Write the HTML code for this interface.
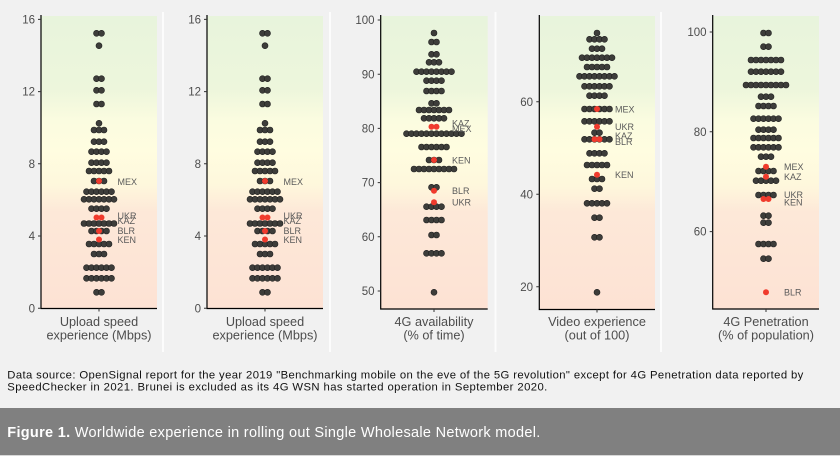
<!DOCTYPE html>
<html><head><meta charset="utf-8"><style>
html,body{margin:0;padding:0;background:#f1f1f1;}
svg{display:block;font-family:"Liberation Sans",Arial,sans-serif;}
.tk{font-size:11.5px;fill:#4d4d4d;text-anchor:end;}
.ti{font-size:12.7px;fill:#4d4d4d;text-anchor:middle;}
.lb{font-size:9px;fill:#5a5a5a;}
.ax{stroke:#000;stroke-width:1.2;fill:none;}
.tm{stroke:#333;stroke-width:1;}
.bd{fill:#3d3d3a;stroke:#1f1f1f;stroke-width:.6;}
.rd{fill:#f03b2d;}
</style></head><body>
<svg width="840" height="456" viewBox="0 0 840 456" xmlns="http://www.w3.org/2000/svg">
<defs>
<linearGradient id="bg" x1="0" y1="0" x2="0" y2="1">
<stop offset="0" stop-color="#e8f4dc"/>
<stop offset=".25" stop-color="#edf6dc"/>
<stop offset=".36" stop-color="#fbfce0"/>
<stop offset=".46" stop-color="#fffde0"/>
<stop offset=".58" stop-color="#fef7dc"/>
<stop offset=".67" stop-color="#fde8d8"/>
<stop offset="1" stop-color="#fde2d4"/>
</linearGradient>
<circle id="c" r="3"/>
<g id="d1"><use href="#c"/></g>
<g id="d2"><use href="#c" x="-2.5"/><use href="#c" x="2.5"/></g>
<g id="d3"><use href="#c" x="-5"/><use href="#c"/><use href="#c" x="5"/></g>
<g id="d4"><use href="#c" x="-7.5"/><use href="#c" x="-2.5"/><use href="#c" x="2.5"/><use href="#c" x="7.5"/></g>
<g id="d5"><use href="#c" x="-10"/><use href="#c" x="-5"/><use href="#c"/><use href="#c" x="5"/><use href="#c" x="10"/></g>
<g id="d6"><use href="#c" x="-12.5"/><use href="#c" x="-7.5"/><use href="#c" x="-2.5"/><use href="#c" x="2.5"/><use href="#c" x="7.5"/><use href="#c" x="12.5"/></g>
<g id="d7"><use href="#c" x="-15"/><use href="#c" x="-10"/><use href="#c" x="-5"/><use href="#c"/><use href="#c" x="5"/><use href="#c" x="10"/><use href="#c" x="15"/></g>
<g id="d8"><use href="#c" x="-17.5"/><use href="#c" x="-12.5"/><use href="#c" x="-7.5"/><use href="#c" x="-2.5"/><use href="#c" x="2.5"/><use href="#c" x="7.5"/><use href="#c" x="12.5"/><use href="#c" x="17.5"/></g>
<g id="d9"><use href="#c" x="-20"/><use href="#c" x="-15"/><use href="#c" x="-10"/><use href="#c" x="-5"/><use href="#c"/><use href="#c" x="5"/><use href="#c" x="10"/><use href="#c" x="15"/><use href="#c" x="20"/></g>
<g id="d12"><use href="#c" x="-27.5"/><use href="#c" x="-22.5"/><use href="#c" x="-17.5"/><use href="#c" x="-12.5"/><use href="#c" x="-7.5"/><use href="#c" x="-2.5"/><use href="#c" x="2.5"/><use href="#c" x="7.5"/><use href="#c" x="12.5"/><use href="#c" x="17.5"/><use href="#c" x="22.5"/><use href="#c" x="27.5"/></g>
</defs>

<rect x="0" y="0" width="840" height="456" fill="#f1f1f1"/>
<g fill="#fcfcfc">
<rect x="162" y="12" width="2" height="340"/>
<rect x="329" y="12" width="2" height="340"/>
<rect x="494.5" y="12" width="2" height="340"/>
<rect x="660" y="12" width="2" height="340"/>
</g>

<!-- PANEL 1 -->
<g>
<rect x="41" y="16" width="116" height="292.5" fill="url(#bg)"/>
<g class="bd">
<use href="#d2" x="99" y="33.3"/><use href="#d1" x="99" y="45.7"/><use href="#d2" x="99" y="78.7"/><use href="#d2" x="99" y="90.3"/><use href="#d2" x="99" y="104"/><use href="#d1" x="99" y="123.3"/><use href="#d3" x="99" y="130"/><use href="#d3" x="99" y="141.7"/><use href="#d4" x="99" y="151.7"/><use href="#d4" x="99" y="162.7"/><use href="#d5" x="99" y="171"/><use href="#d3" x="99" y="181"/><use href="#d6" x="99" y="191.7"/><use href="#d7" x="99" y="199.3"/><use href="#d4" x="99" y="208.7"/><use href="#d7" x="99" y="223.5"/><use href="#d4" x="99" y="231"/><use href="#d5" x="99" y="244"/><use href="#d3" x="99" y="254"/><use href="#d6" x="99" y="267.7"/><use href="#d6" x="99" y="278.3"/><use href="#d2" x="99" y="292.3"/>
</g>
<g class="rd"><use href="#d1" x="99" y="181"/><use href="#d2" x="99" y="217.5"/><use href="#d1" x="99" y="231"/><use href="#d1" x="99" y="239.5"/></g>
<g class="lb"><text x="117.5" y="185.2">MEX</text><text x="117.5" y="219.2">UKR</text><text x="117.5" y="224.2">KAZ</text><text x="117.5" y="233.9">BLR</text><text x="117.5" y="243.2">KEN</text></g>
<path class="ax" d="M41,15V308.5H157"/>
<path class="tm" d="M38,19.4H41M38,91.6H41M38,163.8H41M38,236H41M38,308.2H41M99,308.5V311.5"/>
<g class="tk"><text x="35" y="23.5">16</text><text x="35" y="95.7">12</text><text x="35" y="167.9">8</text><text x="35" y="240.1">4</text><text x="35" y="312.3">0</text></g>
<text class="ti" x="99" y="326">Upload speed</text>
<text class="ti" x="99" y="339.5">experience (Mbps)</text>
</g>

<!-- PANEL 2 -->
<g transform="translate(166,0)">
<rect x="41" y="16" width="116" height="292.5" fill="url(#bg)"/>
<g class="bd">
<use href="#d2" x="99" y="33.3"/><use href="#d1" x="99" y="45.7"/><use href="#d2" x="99" y="78.7"/><use href="#d2" x="99" y="90.3"/><use href="#d2" x="99" y="104"/><use href="#d1" x="99" y="123.3"/><use href="#d3" x="99" y="130"/><use href="#d3" x="99" y="141.7"/><use href="#d4" x="99" y="151.7"/><use href="#d4" x="99" y="162.7"/><use href="#d5" x="99" y="171"/><use href="#d3" x="99" y="181"/><use href="#d6" x="99" y="191.7"/><use href="#d7" x="99" y="199.3"/><use href="#d4" x="99" y="208.7"/><use href="#d7" x="99" y="223.5"/><use href="#d4" x="99" y="231"/><use href="#d5" x="99" y="244"/><use href="#d3" x="99" y="254"/><use href="#d6" x="99" y="267.7"/><use href="#d6" x="99" y="278.3"/><use href="#d2" x="99" y="292.3"/>
</g>
<g class="rd"><use href="#d1" x="99" y="181"/><use href="#d2" x="99" y="217.5"/><use href="#d1" x="99" y="231"/><use href="#d1" x="99" y="239.5"/></g>
<g class="lb"><text x="117.5" y="185.2">MEX</text><text x="117.5" y="219.2">UKR</text><text x="117.5" y="224.2">KAZ</text><text x="117.5" y="233.9">BLR</text><text x="117.5" y="243.2">KEN</text></g>
<path class="ax" d="M41,15V308.5H157"/>
<path class="tm" d="M38,19.4H41M38,91.6H41M38,163.8H41M38,236H41M38,308.2H41M99,308.5V311.5"/>
<g class="tk"><text x="35" y="23.5">16</text><text x="35" y="95.7">12</text><text x="35" y="167.9">8</text><text x="35" y="240.1">4</text><text x="35" y="312.3">0</text></g>
<text class="ti" x="99" y="326">Upload speed</text>
<text class="ti" x="99" y="339.5">experience (Mbps)</text>
</g>

<!-- PANEL 3 -->
<g>
<rect x="380.7" y="16" width="107" height="293" fill="url(#bg)"/>
<g class="bd">
<use href="#d1" x="434" y="33"/><use href="#d2" x="434" y="42"/><use href="#d2" x="434" y="54.3"/><use href="#d3" x="434" y="62.3"/><use href="#d8" x="434" y="71.7"/><use href="#d4" x="434" y="80.7"/><use href="#d4" x="434" y="91"/><use href="#d2" x="434" y="103.3"/><use href="#d7" x="434" y="110"/><use href="#d5" x="434" y="118.3"/><use href="#d12" x="434" y="133.7"/><use href="#d6" x="434" y="147"/><use href="#d3" x="434" y="160"/><use href="#d9" x="434" y="169"/><use href="#d2" x="434" y="187.3"/><use href="#d4" x="434" y="206.7"/><use href="#d4" x="434" y="220"/><use href="#d2" x="434" y="235"/><use href="#d4" x="434" y="253.3"/><use href="#d1" x="434" y="292.3"/>
</g>
<g class="rd"><use href="#d2" x="434" y="126.7"/><use href="#d1" x="434" y="160"/><use href="#d1" x="434" y="190.7"/><use href="#d1" x="434" y="202.3"/></g>
<g class="lb"><text x="452" y="126.5">KAZ</text><text x="452" y="131.9">MEX</text><text x="452" y="163.5">KEN</text><text x="452" y="193.9">BLR</text><text x="452" y="205.5">UKR</text></g>
<path class="ax" d="M380.7,15V309H487.7"/>
<path class="tm" d="M377.7,20H380.7M377.7,74.2H380.7M377.7,128.4H380.7M377.7,182.6H380.7M377.7,236.8H380.7M377.7,291H380.7M434,309V312"/>
<g class="tk"><text x="374.5" y="24.1">100</text><text x="374.5" y="78.3">90</text><text x="374.5" y="132.5">80</text><text x="374.5" y="186.7">70</text><text x="374.5" y="240.9">60</text><text x="374.5" y="295.1">50</text></g>
<text class="ti" x="434" y="326">4G availability</text>
<text class="ti" x="434" y="339.5">(% of time)</text>
</g>

<!-- PANEL 4 -->
<g>
<rect x="539.3" y="16" width="115.7" height="293.5" fill="url(#bg)"/>
<g class="bd">
<use href="#d1" x="597" y="33"/><use href="#d4" x="597" y="39.3"/><use href="#d3" x="597" y="48.7"/><use href="#d7" x="597" y="57.7"/><use href="#d5" x="597" y="67"/><use href="#d8" x="597" y="76.3"/><use href="#d6" x="597" y="86.3"/><use href="#d4" x="597" y="95.7"/><use href="#d6" x="597" y="109"/><use href="#d6" x="597" y="121.3"/><use href="#d2" x="597" y="132.7"/><use href="#d6" x="597" y="139.3"/><use href="#d4" x="597" y="153.3"/><use href="#d5" x="597" y="165"/><use href="#d3" x="597" y="179"/><use href="#d2" x="597" y="188.7"/><use href="#d5" x="597" y="203.3"/><use href="#d2" x="597" y="217.7"/><use href="#d2" x="597" y="237.3"/><use href="#d1" x="597" y="292.3"/>
</g>
<g class="rd"><use href="#d1" x="597" y="109"/><use href="#d1" x="597" y="126.7"/><use href="#d2" x="597" y="139.3"/><use href="#d1" x="597" y="174.7"/></g>
<g class="lb"><text x="615" y="112.5">MEX</text><text x="615" y="130.2">UKR</text><text x="615" y="139.2">KAZ</text><text x="615" y="144.9">BLR</text><text x="615" y="178.2">KEN</text></g>
<path class="ax" d="M539.3,15V309.5H655"/>
<path class="tm" d="M536.3,101.7H539.3M536.3,194.3H539.3M536.3,286.8H539.3M597,309.5V312.5"/>
<g class="tk"><text x="533" y="105.8">60</text><text x="533" y="198.4">40</text><text x="533" y="290.9">20</text></g>
<text class="ti" x="597" y="326">Video experience</text>
<text class="ti" x="597" y="339.5">(out of 100)</text>
</g>

<!-- PANEL 5 -->
<g>
<rect x="712.7" y="16" width="106.3" height="293" fill="url(#bg)"/>
<g class="bd">
<use href="#d2" x="766" y="33"/><use href="#d2" x="766" y="46.7"/><use href="#d7" x="766" y="60"/><use href="#d7" x="766" y="71.7"/><use href="#d9" x="766" y="85"/><use href="#d3" x="766" y="96.7"/><use href="#d4" x="766" y="106"/><use href="#d6" x="766" y="118.7"/><use href="#d4" x="766" y="129.7"/><use href="#d6" x="766" y="138"/><use href="#d6" x="766" y="147.3"/><use href="#d3" x="766" y="156.7"/><use href="#d4" x="766" y="171"/><use href="#d5" x="766" y="180.7"/><use href="#d4" x="766" y="195"/><use href="#d2" x="766" y="215.7"/><use href="#d2" x="766" y="222.7"/><use href="#d4" x="766" y="244"/><use href="#d2" x="766" y="258.7"/>
</g>
<g class="rd"><use href="#d1" x="766" y="166.7"/><use href="#d1" x="766" y="176.7"/><use href="#d2" x="766" y="199"/><use href="#d1" x="766" y="292.3"/></g>
<g class="lb"><text x="784" y="170.2">MEX</text><text x="784" y="179.9">KAZ</text><text x="784" y="198.2">UKR</text><text x="784" y="205.5">KEN</text><text x="784" y="295.5">BLR</text></g>
<path class="ax" d="M712.7,15V309H819"/>
<path class="tm" d="M709.7,32H712.7M709.7,131.8H712.7M709.7,231.6H712.7M766,309V312"/>
<g class="tk"><text x="706.5" y="36.1">100</text><text x="706.5" y="135.9">80</text><text x="706.5" y="235.7">60</text></g>
<text class="ti" x="766" y="326">4G Penetration</text>
<text class="ti" x="766" y="339.5">(% of population)</text>
</g>

<!-- caption -->
<g style="font-size:11.3px;fill:#111111;">
<text x="7.3" y="378.5" textLength="796" lengthAdjust="spacing">Data source: OpenSignal report for the year 2019 "Benchmarking mobile on the eve of the 5G revolution" except for 4G Penetration data reported by</text>
<text x="7.3" y="390.5" textLength="540" lengthAdjust="spacing">SpeedChecker in 2021. Brunei is excluded as its 4G WSN has started operation in September 2020.</text>
</g>
<rect x="0" y="408" width="840" height="47" fill="#808080"/>
<rect x="0" y="455" width="840" height="1" fill="#d8d8d8"/>
<text x="7.3" y="437" style="font-size:14.5px;fill:#ffffff;" textLength="533" lengthAdjust="spacing"><tspan style="font-weight:bold">Figure 1.</tspan> Worldwide experience in rolling out Single Wholesale Network model.</text>
</svg>
</body></html>
